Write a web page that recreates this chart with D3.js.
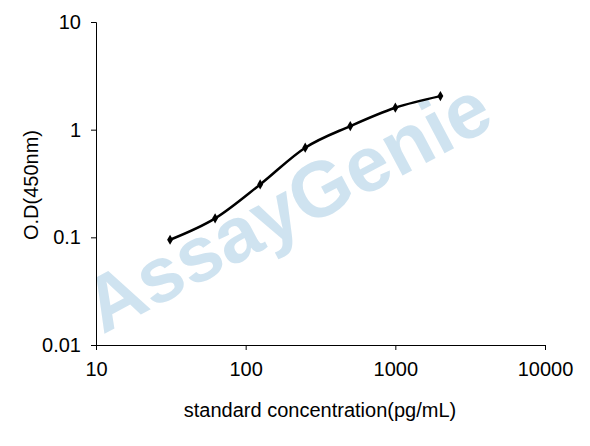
<!DOCTYPE html>
<html><head><meta charset="utf-8">
<script src="https://cdn.jsdelivr.net/npm/d3@7"></script>
<style>body{margin:0;background:#fff}text{font-family:Arial,"Liberation Sans",sans-serif}</style>
</head><body>
<svg id="c" width="590" height="446"></svg>
<script>
// standard curve values
var conc = [31.25, 62.5, 125, 250, 500, 1000, 2000];
var od = [0.095, 0.15, 0.31, 0.68, 1.08, 1.6, 2.05];
var xTicks = [10, 100, 1000, 10000];
var yTicks = [0.01, 0.1, 1, 10];

var svg = d3.select("#c");
var x = d3.scaleLog().domain([10, 10000]).range([96, 545]);
var y = d3.scaleLog().domain([0.01, 10]).range([345, 22]);

// watermark
svg.append("text").attr("transform", "translate(300,230) rotate(-28)")
  .attr("text-anchor", "middle").attr("font-size", 78).attr("font-weight", "bold")
  .attr("fill", "#bcd8ea").attr("opacity", 0.7).text("AssayGenie");

var xa = svg.append("g").attr("transform", "translate(0,345)")
  .call(d3.axisBottom(x).tickValues(xTicks).tickFormat(d3.format("d")).tickSize(5).tickPadding(12));
var ya = svg.append("g").attr("transform", "translate(96,0)")
  .call(d3.axisLeft(y).tickValues(yTicks).tickFormat(function(d){return d;}).tickSize(5).tickPadding(10));
[xa, ya].forEach(function(a){
  a.selectAll("text").attr("font-size", 20).attr("fill", "#000");
  a.selectAll("path,line").attr("stroke", "#000");
});

var line = d3.line().x(function(d,i){return x(conc[i]);}).y(function(d){return y(d);})
  .curve(d3.curveMonotoneX);
svg.append("path").attr("d", line(od)).attr("fill", "none").attr("stroke", "#000").attr("stroke-width", 2.5);
svg.selectAll(".pt").data(od).enter().append("path")
  .attr("transform", function(d,i){return "translate(" + x(conc[i]) + "," + y(d) + ")";})
  .attr("d", d3.symbol(d3.symbolDiamond, 30)).attr("fill", "#000");

svg.append("text").attr("x", 320).attr("y", 417).attr("text-anchor", "middle")
  .attr("font-size", 20).text("standard concentration(pg/mL)");
svg.append("text").attr("transform", "translate(38,185) rotate(-90)").attr("text-anchor", "middle")
  .attr("font-size", 20).text("O.D(450nm)");
</script>
</body></html>
